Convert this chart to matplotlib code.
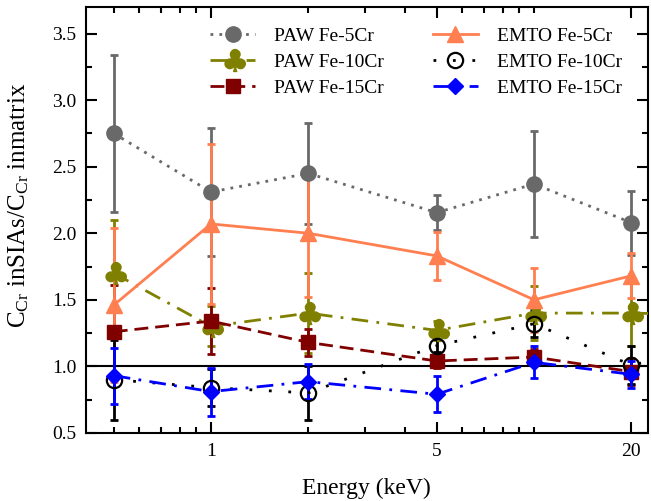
import matplotlib
matplotlib.use("Agg")
import matplotlib.pyplot as plt
import numpy as np
from matplotlib.path import Path
from matplotlib.textpath import TextPath
from matplotlib.font_manager import FontProperties
from matplotlib.ticker import FixedLocator, NullFormatter, MultipleLocator, FormatStrFormatter

plt.rcParams['font.family'] = ['Liberation Serif', 'DejaVu Serif']
plt.rcParams['mathtext.fontset'] = 'custom'
plt.rcParams['mathtext.rm'] = 'Liberation Serif'
plt.rcParams['mathtext.it'] = 'Liberation Serif:italic'

# Energies (keV); the last point lies beyond the visible axis
energy = [0.5, 1, 2, 5, 10, 20, 50]

paw_5 = [2.75, 2.31, 2.45, 2.155, 2.37, 2.08, np.nan]
paw_5_err = [0.59, 0.48, 0.38, 0.13, 0.40, 0.24, np.nan]
paw_10 = [1.70, 1.30, 1.40, 1.27, 1.40, 1.40, 1.38]
paw_10_err = [0.40, 0.15, 0.30, 0.07, 0.20, 0.25, np.nan]
paw_15 = [1.26, 1.34, 1.18, 1.04, 1.07, 0.96, np.nan]
paw_15_err = [0.35, 0.25, 0.10, 0.05, 0.06, 0.10, np.nan]
emto_5 = [1.46, 2.07, 2.00, 1.83, 1.50, 1.68, np.nan]
emto_5_err = [0.58, 0.60, 0.48, 0.18, 0.24, 0.17, np.nan]
emto_10 = [0.90, 0.84, 0.80, 1.155, 1.32, 1.01, 1.20]
emto_10_err = [0.30, 0.14, 0.20, 0.05, 0.10, 0.14, np.nan]
emto_15 = [0.93, 0.81, 0.885, 0.79, 1.03, 0.94, np.nan]
emto_15_err = [0.21, 0.18, 0.13, 0.135, 0.12, 0.10, np.nan]

# club marker built from a glyph
tp = TextPath((0, 0), '\u2663', prop=FontProperties(family='DejaVu Sans'))
v = tp.vertices.copy()
v -= (v.max(axis=0) + v.min(axis=0)) / 2
club = Path(v, tp.codes)

fig = plt.figure(figsize=(6.51, 5.01), dpi=100)
ax = fig.add_axes([0.132, 0.136, 0.863, 0.850])

ax.axhline(1.0, color='black', lw=1.5, zorder=1)

series = [
    (paw_5, paw_5_err, 'PAW Fe-5Cr', '#696969', 'o', (0, (1, 2.2)), 11, dict()),
    (paw_10, paw_10_err, 'PAW Fe-10Cr', '#808000', club, (0, (6, 3, 1, 3)), 17, dict()),
    (paw_15, paw_15_err, 'PAW Fe-15Cr', '#800000', 's', (0, (5, 2.5)), 10, dict()),
    (emto_5, emto_5_err, 'EMTO Fe-5Cr', '#FF7F50', '^', '-', 11, dict()),
    (emto_10, emto_10_err, 'EMTO Fe-10Cr', 'black', 'o', (0, (1, 6)), 11,
     dict(mfc='none', mec='black', mew=1.6)),
    (emto_15, emto_15_err, 'EMTO Fe-15Cr', '#0000FF', 'D', (0, (6, 3, 1, 3)), 8, dict()),
]

handles = []
for vals, err, label, col, mk, ls, ms, extra in series:
    ax.errorbar(energy, vals, yerr=err, fmt='none', ecolor=col, elinewidth=2,
                capsize=3, capthick=2, zorder=2)
    h, = ax.plot(energy, vals, color=col, ls=ls, lw=2, marker=mk, ms=ms,
                 label=label, zorder=3, **extra)
    handles.append(h)

ax.set_xscale('log')
ax.set_xlim(0.41, 22.5)
ax.set_ylim(0.5, 3.7)
ax.xaxis.set_major_locator(FixedLocator([1, 5, 20]))
ax.xaxis.set_minor_locator(FixedLocator([0.5, 0.6, 0.7, 0.8, 0.9, 2, 3, 4, 6, 7, 8, 9, 10]))
ax.xaxis.set_minor_formatter(NullFormatter())
ax.set_xticklabels(['1', '5', '20'])
ax.yaxis.set_major_locator(MultipleLocator(0.5))
ax.yaxis.set_minor_locator(MultipleLocator(0.25))
ax.yaxis.set_major_formatter(FormatStrFormatter('%.1f'))
ax.tick_params(which='both', direction='in', top=True, right=True, labelsize=14, width=1.5)
ax.tick_params(which='major', length=8, pad=7)
ax.tick_params(which='minor', length=4.5)
for s in ax.spines.values():
    s.set_linewidth(1.5)

ax.set_xlabel('Energy (keV)', fontsize=17, labelpad=13)
ax.set_ylabel(r'C$_{\mathrm{Cr}}$ inSIAs/C$_{\mathrm{Cr}}$ inmatrix', fontsize=18)
ax.yaxis.set_label_coords(-0.097, 0.535)

ax.legend(handles=handles, ncol=2, frameon=False, fontsize=14,
          loc='upper left', bbox_to_anchor=(0.19, 0.993),
          handlelength=2.3, columnspacing=2.5, labelspacing=0.43, handletextpad=1.0)

fig.savefig('out.png', dpi=100)
